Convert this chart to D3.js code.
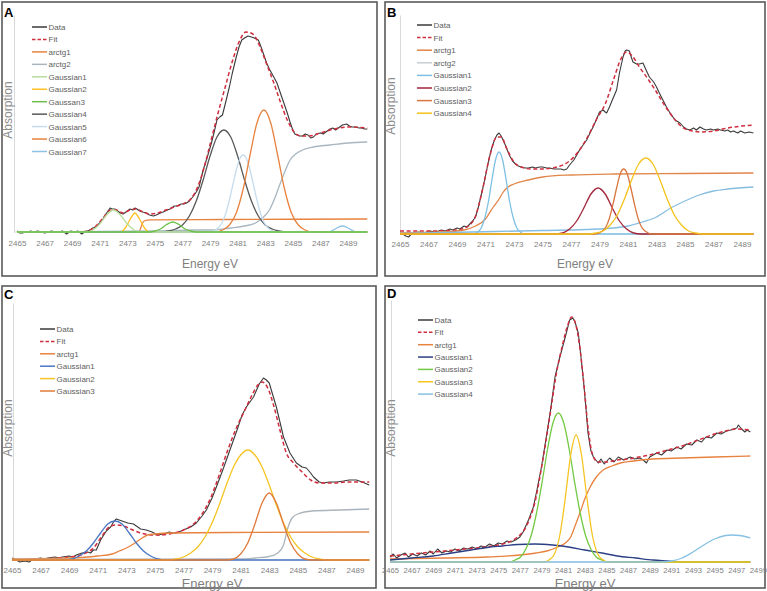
<!DOCTYPE html>
<html><head><meta charset="utf-8">
<script src="https://cdn.jsdelivr.net/npm/d3@7"></script>
<style>body{margin:0;background:#fff}svg{display:block}text{font-family:"Liberation Sans",Arial,sans-serif}</style>
</head><body><svg id="c" width="767" height="591"></svg>
<script>
// ---------- tick labels ----------
const ticksABC = [2465,2467,2469,2471,2473,2475,2477,2479,2481,2483,2485,2487,2489];
const ticksD = [2465,2467,2469,2471,2473,2475,2477,2479,2481,2483,2485,2487,2489,2491,2493,2495,2497,2499];

// ---------- legends ----------
const legendA = ["Data","Fit","arctg1","arctg2","Gaussian1","Gaussian2","Gaussan3","Gaussian4","Gaussian5","Gaussian6","Gaussian7"];
const legendB = ["Data","Fit","arctg1","arctg2","Gaussian1","Gaussian2","Gaussian3","Gaussian4"];
const legendC = ["Data","Fit","arctg1","Gaussian1","Gaussian2","Gaussian3"];
const legendD = ["Data","Fit","arctg1","Gaussian1","Gaussian2","Gaussian3","Gaussian4"];

// ---------- panel A ----------
const A_data = [[2465.0,0.01],[2465.2,-0.01],[2465.4,-0.01],[2465.6,0.0],[2465.8,0.0],[2466.0,0.01],[2466.2,0.0],[2466.5,0.01],[2466.8,0.0],[2467.0,-0.01],[2467.3,0.0],[2467.5,0.01],[2467.8,0.0],[2468.0,0.0],[2468.3,0.01],[2468.6,-0.02],[2468.8,0.0],[2468.9,0.01],[2469.2,0.0],[2469.4,0.01],[2469.7,-0.02],[2469.9,0.0],[2470.1,0.01],[2470.3,0.02],[2470.5,0.04],[2470.7,0.05],[2471.0,0.09],[2471.2,0.12],[2471.4,0.17],[2471.6,0.21],[2471.75,0.24],[2471.9,0.23],[2472.1,0.23],[2472.3,0.21],[2472.5,0.19],[2472.7,0.18],[2472.8,0.19],[2473.0,0.21],[2473.2,0.23],[2473.4,0.22],[2473.55,0.24],[2473.7,0.23],[2473.9,0.21],[2474.1,0.2],[2474.4,0.19],[2474.6,0.17],[2474.9,0.16],[2475.1,0.17],[2475.4,0.19],[2475.6,0.2],[2475.9,0.22],[2476.1,0.23],[2476.4,0.26],[2476.6,0.26],[2476.9,0.28],[2477.1,0.28],[2477.3,0.29],[2477.5,0.31],[2477.8,0.36],[2478.0,0.4],[2478.2,0.45],[2478.5,0.62],[2478.8,0.75],[2479.1,0.89],[2479.3,1.0],[2479.5,1.12],[2479.7,1.15],[2479.9,1.17],[2480.1,1.28],[2480.4,1.45],[2480.6,1.58],[2480.9,1.75],[2481.1,1.85],[2481.3,1.92],[2481.5,1.94],[2481.75,1.96],[2482.0,1.95],[2482.2,1.94],[2482.5,1.92],[2482.7,1.85],[2482.85,1.79],[2483.1,1.69],[2483.3,1.63],[2483.5,1.58],[2483.7,1.53],[2483.85,1.49],[2484.0,1.43],[2484.2,1.35],[2484.4,1.27],[2484.6,1.19],[2484.8,1.1],[2485.0,1.02],[2485.15,0.98],[2485.3,0.97],[2485.5,0.96],[2485.7,0.96],[2485.9,0.98],[2486.1,0.97],[2486.3,0.94],[2486.5,0.95],[2486.7,0.98],[2487.0,0.99],[2487.2,0.98],[2487.5,1.01],[2487.7,1.03],[2487.9,1.04],[2488.1,1.02],[2488.4,1.05],[2488.6,1.07],[2488.9,1.08],[2489.1,1.06],[2489.3,1.05],[2489.6,1.05],[2489.8,1.04],[2490.0,1.04],[2490.2,1.03],[2490.4,1.03]];
const A_fit = [[2465,0],[2469.5,0.0],[2470.3,0.02],[2470.8,0.07],[2471.3,0.15],[2471.8,0.22],[2472.2,0.22],[2472.7,0.19],[2473.2,0.22],[2473.6,0.23],[2474.0,0.21],[2474.6,0.18],[2475.2,0.19],[2475.8,0.22],[2476.4,0.25],[2477.0,0.28],[2477.6,0.33],[2478.1,0.45],[2478.6,0.66],[2479.1,0.93],[2479.6,1.2],[2480.1,1.45],[2480.6,1.7],[2481.1,1.9],[2481.6,2.0],[2482.1,1.98],[2482.6,1.86],[2483.1,1.68],[2483.6,1.5],[2484.1,1.3],[2484.6,1.12],[2485.1,1.0],[2485.6,0.96],[2486.2,0.96],[2487,0.99],[2488,1.03],[2489,1.05],[2490.4,1.04]];
const A_arctg1 = [[2465,0],[2473.8,0],[2473.95,0.03],[2474.1,0.09],[2474.3,0.115],[2474.6,0.122],[2480,0.125],[2490.4,0.13]];
const A_arctg2 = [[2465,0],[2475,0.01],[2478,0.02],[2479.2,0.02],[2480.5,0.04],[2481.5,0.06],[2482.3,0.09],[2482.8,0.14],[2483.3,0.22],[2483.7,0.34],[2484.1,0.49],[2484.5,0.63],[2484.8,0.72],[2485.2,0.78],[2485.7,0.82],[2486.5,0.85],[2487.7,0.87],[2489,0.89],[2490.4,0.90]];
const A_g1 = [[2465,0],[2470,0],[2470.5,0.02],[2471,0.08],[2471.5,0.17],[2472,0.22],[2472.5,0.17],[2473,0.08],[2473.5,0.02],[2474,0],[2490.4,0]];
const A_g2 = [[2465,0],[2472.5,0],[2472.8,0.03],[2473.1,0.1],[2473.35,0.16],[2473.55,0.19],[2473.75,0.16],[2474.0,0.1],[2474.3,0.03],[2474.6,0],[2490.4,0]];
const A_g3 = [[2465,0],[2474.6,0],[2475.0,0.01],[2475.4,0.03],[2475.8,0.07],[2476.3,0.10],[2476.8,0.07],[2477.2,0.03],[2477.6,0.01],[2478,0],[2490.4,0]];
const A_g4 = [[2465,0],[2475.5,0],[2476,0.01],[2476.5,0.03],[2477,0.07],[2477.5,0.16],[2478,0.31],[2478.5,0.52],[2479,0.76],[2479.5,0.95],[2480,1.02],[2480.5,0.95],[2481,0.76],[2481.5,0.52],[2482,0.31],[2482.5,0.16],[2483,0.07],[2483.5,0.03],[2484,0.01],[2484.5,0],[2490.4,0]];
const A_g5 = [[2465,0],[2478.9,0],[2479.4,0.02],[2479.65,0.05],[2479.9,0.10],[2480.15,0.19],[2480.4,0.32],[2480.65,0.47],[2480.9,0.62],[2481.15,0.73],[2481.4,0.77],[2481.65,0.73],[2481.9,0.62],[2482.15,0.47],[2482.4,0.32],[2482.65,0.19],[2482.9,0.10],[2483.15,0.05],[2483.4,0.02],[2483.9,0],[2490.4,0]];
const A_g6 = [[2465,0],[2479.4,0],[2479.9,0.02],[2480.4,0.07],[2480.9,0.19],[2481.4,0.43],[2481.9,0.77],[2482.4,1.09],[2482.9,1.22],[2483.4,1.09],[2483.9,0.77],[2484.4,0.43],[2484.9,0.19],[2485.4,0.07],[2485.9,0.02],[2486.4,0],[2490.4,0]];
const A_g7 = [[2465,0],[2487.4,0],[2487.8,0.01],[2488.2,0.04],[2488.6,0.06],[2489.0,0.04],[2489.4,0.01],[2489.8,0],[2490.4,0]];

// ---------- panel B ----------
const B_data = [[2465.0,0.01],[2465.2,0.0],[2465.4,-0.02],[2465.6,-0.03],[2465.8,0.0],[2466.0,0.01],[2466.3,0.02],[2466.6,0.01],[2466.9,0.02],[2467.1,0.03],[2467.4,0.02],[2467.7,0.03],[2467.9,0.04],[2468.2,0.03],[2468.5,0.05],[2468.7,0.04],[2469.0,0.06],[2469.2,0.05],[2469.5,0.08],[2469.7,0.07],[2469.9,0.1],[2470.1,0.13],[2470.3,0.17],[2470.5,0.27],[2470.8,0.45],[2471.0,0.58],[2471.2,0.72],[2471.4,0.84],[2471.6,0.93],[2471.8,0.99],[2471.95,1.01],[2472.1,0.98],[2472.3,0.92],[2472.5,0.85],[2472.7,0.78],[2472.9,0.73],[2473.1,0.70],[2473.3,0.68],[2473.5,0.67],[2473.8,0.66],[2474.0,0.66],[2474.3,0.67],[2474.5,0.66],[2474.8,0.67],[2475.0,0.67],[2475.3,0.66],[2475.5,0.66],[2475.8,0.65],[2476.0,0.65],[2476.3,0.65],[2476.5,0.64],[2476.7,0.65],[2476.9,0.69],[2477.2,0.74],[2477.4,0.79],[2477.6,0.84],[2477.9,0.90],[2478.1,0.94],[2478.3,1.0],[2478.55,1.07],[2478.8,1.15],[2479.0,1.22],[2479.25,1.24],[2479.4,1.22],[2479.5,1.21],[2479.7,1.27],[2479.9,1.34],[2480.2,1.44],[2480.4,1.61],[2480.65,1.77],[2480.8,1.83],[2480.9,1.84],[2481.1,1.83],[2481.25,1.76],[2481.35,1.72],[2481.6,1.70],[2481.8,1.70],[2482.05,1.71],[2482.3,1.63],[2482.5,1.57],[2482.8,1.52],[2483.0,1.47],[2483.2,1.41],[2483.45,1.34],[2483.7,1.27],[2483.95,1.21],[2484.3,1.14],[2484.65,1.11],[2484.9,1.07],[2485.1,1.05],[2485.35,1.04],[2485.6,1.06],[2485.8,1.04],[2486.05,1.07],[2486.3,1.05],[2486.5,1.04],[2486.8,1.05],[2487.0,1.04],[2487.3,1.05],[2487.5,1.04],[2487.8,1.03],[2488.0,1.04],[2488.2,1.02],[2488.4,1.03],[2488.7,1.01],[2488.9,1.03],[2489.2,1.01],[2489.5,1.02],[2489.8,1.01]];
const B_fit = [[2465,0.03],[2467,0.03],[2469,0.04],[2469.8,0.08],[2470.3,0.18],[2470.8,0.45],[2471.3,0.78],[2471.8,0.97],[2472.1,0.97],[2472.5,0.85],[2473.0,0.72],[2473.5,0.67],[2474.2,0.65],[2475,0.65],[2476,0.67],[2476.8,0.72],[2477.5,0.82],[2478.2,0.98],[2478.8,1.15],[2479.4,1.3],[2480.0,1.55],[2480.5,1.75],[2480.9,1.82],[2481.3,1.78],[2481.8,1.67],[2482.4,1.55],[2483.0,1.42],[2483.6,1.28],[2484.2,1.16],[2484.8,1.07],[2485.5,1.03],[2486.2,1.02],[2487,1.03],[2488,1.06],[2489,1.08],[2489.8,1.09]];
const B_arctg1 = [[2465,0.01],[2468,0.02],[2469.5,0.04],[2470.3,0.08],[2471,0.15],[2471.5,0.26],[2472,0.36],[2472.2,0.41],[2472.5,0.46],[2473,0.5],[2474,0.54],[2475,0.57],[2477,0.59],[2480,0.6],[2485,0.605],[2489.8,0.61]];
const B_arctg2 = [[2465,0.005],[2470,0.02],[2475,0.035],[2478,0.045],[2480,0.06],[2481,0.08],[2482,0.12],[2483,0.17],[2484,0.26],[2485,0.33],[2486,0.39],[2487,0.43],[2488,0.45],[2489.8,0.47]];
const B_g1 = [[2465,0],[2470.2,0],[2470.45,0.02],[2470.7,0.06],[2470.95,0.16],[2471.2,0.32],[2471.45,0.54],[2471.7,0.74],[2471.95,0.82],[2472.2,0.74],[2472.45,0.54],[2472.7,0.32],[2472.95,0.16],[2473.2,0.06],[2473.45,0.02],[2473.7,0],[2489.8,0]];
const B_g2 = [[2465,0],[2475.9,0],[2476.4,0.01],[2476.9,0.05],[2477.4,0.13],[2477.9,0.26],[2478.4,0.40],[2478.9,0.46],[2479.4,0.40],[2479.9,0.26],[2480.4,0.13],[2480.9,0.05],[2481.4,0.01],[2481.9,0],[2489.8,0]];
const B_g3 = [[2465,0],[2478.7,0],[2479.2,0.03],[2479.45,0.07],[2479.7,0.16],[2479.95,0.30],[2480.2,0.46],[2480.45,0.60],[2480.7,0.65],[2480.95,0.60],[2481.2,0.46],[2481.45,0.30],[2481.7,0.16],[2481.95,0.07],[2482.2,0.03],[2482.7,0],[2489.8,0]];
const B_g4 = [[2465,0],[2478.25,0],[2478.75,0.01],[2479.25,0.03],[2479.75,0.09],[2480.25,0.19],[2480.75,0.35],[2481.25,0.54],[2481.75,0.70],[2482.25,0.76],[2482.75,0.70],[2483.25,0.54],[2483.75,0.35],[2484.25,0.19],[2484.75,0.09],[2485.25,0.03],[2485.75,0.01],[2486.25,0],[2489.8,0]];

// ---------- panel C ----------
const C_data = [[2465.0,0.02],[2465.3,0.0],[2465.55,-0.02],[2465.9,-0.01],[2466.2,-0.02],[2466.4,0.0],[2466.6,0.01],[2467.0,0.02],[2467.3,0.01],[2467.5,0.02],[2468.0,0.03],[2468.3,0.02],[2468.5,0.03],[2469.0,0.04],[2469.3,0.03],[2469.5,0.05],[2469.9,0.07],[2470.3,0.08],[2470.5,0.07],[2470.7,0.10],[2470.9,0.10],[2471.2,0.20],[2471.6,0.29],[2471.9,0.33],[2472.1,0.38],[2472.3,0.41],[2472.5,0.40],[2472.7,0.39],[2473.1,0.37],[2473.5,0.36],[2473.8,0.33],[2474.0,0.31],[2474.4,0.30],[2474.8,0.28],[2475.2,0.25],[2475.6,0.26],[2476.0,0.28],[2476.2,0.27],[2476.5,0.27],[2477.0,0.30],[2477.5,0.33],[2477.9,0.37],[2478.3,0.44],[2478.6,0.50],[2479.0,0.62],[2479.3,0.73],[2479.7,0.88],[2480.0,1.00],[2480.4,1.16],[2480.75,1.30],[2481.1,1.45],[2481.4,1.53],[2481.9,1.63],[2482.3,1.76],[2482.6,1.82],[2482.8,1.80],[2483.0,1.77],[2483.25,1.65],[2483.5,1.53],[2483.75,1.38],[2484.0,1.23],[2484.45,1.07],[2484.9,0.97],[2485.3,0.93],[2485.6,0.92],[2485.9,0.87],[2486.1,0.83],[2486.5,0.78],[2486.8,0.77],[2487.2,0.78],[2487.7,0.78],[2488.2,0.79],[2488.6,0.80],[2489.1,0.80],[2489.5,0.78],[2490.0,0.75]];
const C_fit = [[2465,0.0],[2467,0.01],[2469,0.03],[2470,0.06],[2470.7,0.12],[2471.3,0.24],[2471.8,0.33],[2472.3,0.35],[2472.8,0.34],[2473.3,0.31],[2473.8,0.28],[2474.3,0.26],[2474.8,0.25],[2475.5,0.25],[2476,0.26],[2477,0.3],[2477.7,0.36],[2478.3,0.46],[2478.9,0.62],[2479.5,0.85],[2480.1,1.1],[2480.7,1.32],[2481.3,1.5],[2481.8,1.65],[2482.2,1.75],[2482.5,1.78],[2482.9,1.72],[2483.3,1.55],[2483.75,1.3],[2484.2,1.07],[2484.7,0.97],[2485.3,0.88],[2485.9,0.80],[2486.5,0.77],[2487.5,0.77],[2488.5,0.78],[2490,0.78]];
const C_arctg1 = [[2465,0.01],[2469,0.02],[2471,0.04],[2472,0.06],[2472.5,0.09],[2473,0.12],[2473.5,0.16],[2474,0.21],[2474.5,0.25],[2475,0.26],[2476,0.27],[2480,0.275],[2490,0.28]];
const C_arctg2 = [[2465,0.005],[2481,0.01],[2482,0.02],[2483,0.035],[2483.6,0.07],[2484.0,0.15],[2484.3,0.32],[2484.6,0.42],[2485,0.46],[2486,0.49],[2488,0.50],[2490,0.51]];
const C_g1 = [[2465,0],[2468.7,0],[2469.2,0.01],[2469.7,0.04],[2470.2,0.09],[2470.7,0.17],[2471.2,0.27],[2471.7,0.36],[2472.2,0.39],[2472.7,0.36],[2473.2,0.27],[2473.7,0.17],[2474.2,0.09],[2474.7,0.04],[2475.2,0.01],[2475.7,0],[2490,0]];
const C_g2 = [[2465,0],[2476,0],[2476.5,0.01],[2477,0.03],[2477.5,0.07],[2478,0.13],[2478.5,0.23],[2479,0.37],[2479.5,0.55],[2480,0.75],[2480.5,0.93],[2481,1.05],[2481.5,1.10],[2482,1.05],[2482.5,0.93],[2483,0.75],[2483.5,0.55],[2484,0.37],[2484.5,0.23],[2485,0.13],[2485.5,0.07],[2486,0.03],[2486.5,0.01],[2487,0],[2490,0]];
const C_g3 = [[2465,0],[2480,0],[2480.5,0.01],[2481,0.06],[2481.5,0.17],[2482,0.36],[2482.5,0.57],[2483,0.67],[2483.5,0.57],[2484,0.36],[2484.5,0.17],[2485,0.06],[2485.5,0.01],[2486,0],[2490,0]];

// ---------- panel D ----------
const D_data = [[2465.0,0.05],[2465.3,0.08],[2465.6,0.04],[2466.0,0.07],[2466.4,0.09],[2466.7,0.05],[2467.1,0.08],[2467.5,0.06],[2467.9,0.09],[2468.3,0.07],[2468.7,0.11],[2469.0,0.08],[2469.4,0.13],[2469.8,0.09],[2470.2,0.11],[2470.6,0.10],[2471.0,0.13],[2471.4,0.11],[2471.8,0.14],[2472.2,0.13],[2472.6,0.15],[2473.0,0.13],[2473.4,0.16],[2473.8,0.15],[2474.2,0.18],[2474.6,0.16],[2475.0,0.19],[2475.4,0.18],[2475.8,0.21],[2476.2,0.20],[2476.6,0.22],[2477.0,0.25],[2477.3,0.30],[2477.8,0.42],[2478.25,0.55],[2478.6,0.73],[2479.0,0.95],[2479.4,1.22],[2479.8,1.49],[2480.25,1.85],[2480.7,2.05],[2481.2,2.25],[2481.6,2.42],[2481.9,2.44],[2482.1,2.40],[2482.4,2.29],[2482.65,2.05],[2482.9,1.79],[2483.1,1.55],[2483.3,1.29],[2483.55,1.12],[2483.8,1.05],[2484.25,0.99],[2484.5,1.03],[2484.8,0.98],[2485.3,1.04],[2485.7,1.00],[2486.1,1.05],[2486.6,1.02],[2487.2,1.05],[2487.6,1.03],[2488.1,1.04],[2488.4,1.02],[2488.7,0.99],[2489.0,1.05],[2489.65,1.09],[2490.1,1.07],[2490.6,1.12],[2491.0,1.11],[2491.5,1.15],[2491.9,1.13],[2492.4,1.18],[2492.9,1.17],[2493.35,1.22],[2493.8,1.20],[2494.2,1.25],[2494.7,1.24],[2495.2,1.29],[2495.6,1.28],[2496.1,1.31],[2496.5,1.32],[2497.05,1.34],[2497.2,1.37],[2497.5,1.33],[2497.8,1.30],[2498.0,1.32],[2498.3,1.30]];
const D_fit = [[2465,0.06],[2467,0.08],[2469,0.10],[2471,0.12],[2473,0.14],[2475,0.17],[2476,0.2],[2476.8,0.25],[2477.4,0.32],[2477.9,0.43],[2478.4,0.6],[2478.9,0.88],[2479.4,1.2],[2479.9,1.55],[2480.4,1.9],[2480.9,2.15],[2481.4,2.36],[2481.8,2.45],[2482.1,2.4],[2482.5,2.18],[2482.9,1.8],[2483.3,1.35],[2483.7,1.08],[2484.2,1.0],[2485,1.0],[2486,1.02],[2487,1.03],[2488,1.05],[2489,1.07],[2490,1.1],[2491,1.13],[2492,1.16],[2493,1.2],[2494,1.24],[2495,1.28],[2496,1.31],[2497,1.33],[2498.3,1.32]];
const D_arctg1 = [[2465,0.03],[2470,0.04],[2474,0.05],[2477,0.07],[2478.5,0.09],[2479.5,0.11],[2480.5,0.15],[2481.2,0.19],[2481.7,0.25],[2482.1,0.36],[2482.55,0.49],[2483,0.63],[2483.5,0.75],[2484,0.84],[2484.7,0.92],[2485.5,0.96],[2486.3,0.99],[2487.5,1.01],[2489.3,1.03],[2492,1.04],[2495,1.05],[2498.3,1.06]];
const D_g1 = [[2465,0.02],[2467,0.04],[2469,0.06],[2470.7,0.09],[2472.5,0.12],[2474,0.145],[2475.4,0.16],[2476.8,0.175],[2478.4,0.18],[2480,0.17],[2481.5,0.15],[2483,0.12],[2484.6,0.09],[2486,0.06],[2487.7,0.04],[2489.3,0.02],[2490.7,0.01],[2492,0.0],[2498.3,0]];
const D_g2 = [[2465,0],[2476.06,0],[2476.56,0.02],[2477.06,0.05],[2477.56,0.13],[2478.06,0.27],[2478.56,0.50],[2479.06,0.80],[2479.56,1.13],[2480.06,1.39],[2480.56,1.49],[2481.06,1.39],[2481.56,1.13],[2482.06,0.80],[2482.56,0.50],[2483.06,0.27],[2483.56,0.13],[2484.06,0.05],[2484.56,0.02],[2485.06,0],[2498.3,0]];
const D_g3 = [[2465,0],[2479.2,0],[2479.7,0.02],[2480.2,0.08],[2480.7,0.27],[2481.2,0.64],[2481.7,1.07],[2482.2,1.27],[2482.7,1.07],[2483.2,0.64],[2483.7,0.27],[2484.2,0.08],[2484.7,0.02],[2485.2,0],[2498.3,0]];
const D_g4 = [[2465,0],[2490.0,0],[2491,0.01],[2492,0.04],[2493,0.1],[2494,0.17],[2495,0.23],[2496,0.265],[2496.6,0.27],[2497.3,0.265],[2498.3,0.24]];

// ---------- styling ----------
const DATA_COL = "#3a3a3a", FIT_COL = "#cf2e3e";
const panels = [
  { label:"A", box:[2,2,377,276], x0:17, ppe:13.79, domain:[2465,2490.4], base:232, top:15, axisX:14,
    ticks:ticksABC, tickY:246, tickSize:8, titleX:210, titleY:268, titleSize:12,
    leg:{x:32,y:27,step:12.45}, abs:{x:8,y:110}, lab:{x:4,y:17},
    legendNames:legendA,
    legendColors:[DATA_COL,FIT_COL,"#e8823f","#a9b6bf","#b7dd9b","#ffc125","#6cc04a","#595959","#c5dcee","#e8823f","#8fc3e6"],
    series:[
      {v:A_data,c:DATA_COL,w:1.1,t:"data"},{v:A_fit,c:FIT_COL,w:1.5,t:"fit"},
      {v:A_arctg1,c:"#e8823f"},{v:A_arctg2,c:"#a9b6bf"},{v:A_g2,c:"#ffc125"},{v:A_g4,c:"#595959"},
      {v:A_g5,c:"#c5dcee"},{v:A_g6,c:"#e8823f"},{v:A_g7,c:"#8fc3e6"},{v:A_g1,c:"#b7dd9b"},{v:A_g3,c:"#6cc04a"}]},
  { label:"B", box:[385,2,765,276], x0:400, ppe:14.25, domain:[2465,2489.8], base:234, top:15, axisX:400,
    ticks:ticksABC, tickY:247, tickSize:8, titleX:585, titleY:268, titleSize:12,
    leg:{x:417,y:25,step:12.6}, abs:{x:391,y:106}, lab:{x:387,y:17},
    legendNames:legendB,
    legendColors:[DATA_COL,FIT_COL,"#e0864a","#c8cdd2","#7ec0e4","#a3253a","#d9773f","#f3c21b"],
    series:[
      {v:B_data,c:DATA_COL,w:1.1,t:"data"},{v:B_fit,c:FIT_COL,w:1.5,t:"fit"},
      {v:B_arctg1,c:"#e0864a"},{v:B_arctg2,c:"#86bde0"},{v:B_g1,c:"#7ec0e4"},{v:B_g2,c:"#a3253a"},
      {v:B_g3,c:"#d9773f"},{v:B_g4,c:"#f3c21b"}]},
  { label:"C", box:[2,286,376,588], x0:12, ppe:14.29, domain:[2465,2490], base:560, top:303, axisX:13,
    ticks:ticksABC, tickY:572.5, tickSize:8, titleX:212, titleY:587.5, titleSize:13,
    leg:{x:40,y:329,step:12.4}, abs:{x:8,y:428}, lab:{x:4,y:299},
    legendNames:legendC,
    legendColors:[DATA_COL,FIT_COL,"#e8823f","#4a77c4","#f5c423","#e07a3a"],
    series:[
      {v:C_data,c:DATA_COL,w:1.1,t:"data"},{v:C_fit,c:FIT_COL,w:1.5,t:"fit"},
      {v:C_arctg1,c:"#e8823f"},{v:C_arctg2,c:"#aab4bc"},{v:C_g1,c:"#4a77c4"},{v:C_g2,c:"#f5c423"},{v:C_g3,c:"#e07a3a"}]},
  { label:"D", box:[385,286,765,588], x0:390, ppe:10.82, domain:[2465,2498.3], base:562, top:300, axisX:391,
    ticks:ticksD, tickY:572.5, tickSize:7.7, titleX:585, titleY:587.5, titleSize:13,
    leg:{x:418,y:320,step:12.35}, abs:{x:391,y:428}, lab:{x:387,y:298},
    legendNames:legendD,
    legendColors:[DATA_COL,FIT_COL,"#e8823f","#2b3f85","#74c944","#f5c423","#86c1e3"],
    series:[
      {v:D_data,c:DATA_COL,w:1.1,t:"data"},{v:D_fit,c:FIT_COL,w:1.5,t:"fit"},
      {v:D_arctg1,c:"#e8823f"},{v:D_g1,c:"#2b3f85"},{v:D_g2,c:"#74c944"},{v:D_g3,c:"#f5c423"},{v:D_g4,c:"#86c1e3"}]}
];

const svg = d3.select("#c");
svg.append("rect").attr("width",767).attr("height",591).attr("fill","#fff");

panels.forEach(p => {
  const g = svg.append("g");
  g.append("rect").attr("x",p.box[0]).attr("y",p.box[1])
    .attr("width",p.box[2]-p.box[0]).attr("height",p.box[3]-p.box[1])
    .attr("fill","#fff").attr("stroke","#5a5a5a").attr("stroke-width",1.6);

  const x = d3.scaleLinear().domain(p.domain).range([p.x0, p.x0 + (p.domain[1]-p.domain[0])*p.ppe]);
  const y = d3.scaleLinear().domain([0,1]).range([p.base, p.base-100]);
  const yAxisScale = d3.scaleLinear().domain([0,(p.base-p.top)/100]).range([p.base,p.top]);

  // y axis (line only)
  const ya = g.append("g").attr("transform",`translate(${p.axisX},0)`)
    .call(d3.axisLeft(yAxisScale).tickValues([]).tickSizeOuter(0));
  ya.select(".domain").attr("stroke","#d9d9d9").attr("stroke-width",1);

  // x axis
  const xa = g.append("g").attr("transform",`translate(0,${p.base})`)
    .call(d3.axisBottom(x).tickValues(p.ticks).tickFormat(d3.format("d")).tickSize(0).tickSizeOuter(0));
  xa.select(".domain").remove();
  xa.selectAll("text").attr("y", p.tickY - p.base).attr("dy", null)
    .attr("fill","#7f7f7f").style("font-size", p.tickSize+"px").style("font-family","'Liberation Sans',Arial,sans-serif");
  g.append("line").attr("x1",p.axisX).attr("x2",x(p.domain[1])).attr("y1",p.base).attr("y2",p.base)
    .attr("stroke","#d9d9d9").attr("stroke-width",1);

  // series
  const line = d3.line().x(d=>x(d[0])).y(d=>y(d[1]));
  p.series.forEach(s => {
    const path = g.append("path").datum(s.v)
      .attr("fill","none").attr("stroke",s.c)
      .attr("stroke-width", s.w || 1.3)
      .attr("stroke-linejoin","round")
      .attr("d", line.curve(s.t==="data" ? d3.curveLinear : d3.curveMonotoneX)(s.v));
    if (s.t==="fit") path.attr("stroke-dasharray","4,2.6");
  });

  // legend
  p.legendNames.forEach((n,i) => {
    const ly = p.leg.y + i*p.leg.step;
    g.append("line").attr("x1",p.leg.x).attr("x2",p.leg.x+15).attr("y1",ly).attr("y2",ly)
      .attr("stroke",p.legendColors[i]).attr("stroke-width",1.5)
      .attr("stroke-dasharray", n==="Fit" ? "3.5,2" : null);
    g.append("text").attr("x",p.leg.x+16.5).attr("y",ly+3).text(n)
      .attr("fill","#606060").style("font-size","8px");
  });

  // axis titles
  g.append("text").attr("x",p.titleX).attr("y",p.titleY).attr("text-anchor","middle")
    .attr("fill","#7f7f7f").style("font-size",p.titleSize+"px").text("Energy eV");
  g.append("text").attr("transform",`translate(${p.abs.x+4},${p.abs.y}) rotate(-90)`)
    .attr("text-anchor","middle").attr("fill","#8c8c8c").style("font-size","12px").text("Absorption");

  // panel letter
  g.append("text").attr("x",p.lab.x).attr("y",p.lab.y).attr("fill","#000")
    .style("font-size","13px").style("font-weight","bold").text(p.label);
});
</script>
</body></html>
